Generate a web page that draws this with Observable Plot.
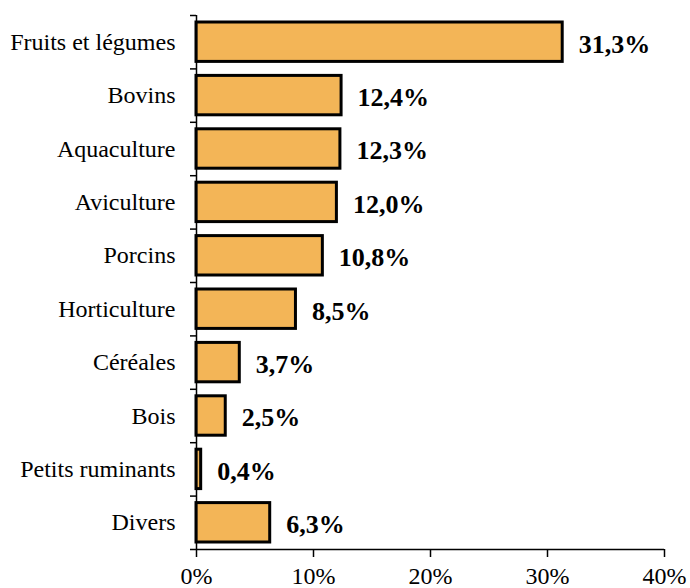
<!DOCTYPE html>
<html><head><meta charset="utf-8">
<script src="https://cdn.jsdelivr.net/npm/d3@7"></script>
<script src="https://cdn.jsdelivr.net/npm/@observablehq/plot@0.6"></script>
<style>body{margin:0;background:#fff}</style>
</head><body><div id="chart"></div>
<script>
const categories = ["Fruits et légumes","Bovins","Aquaculture","Aviculture","Porcins","Horticulture","Céréales","Bois","Petits ruminants","Divers"];
const values = [31.3, 12.4, 12.3, 12.0, 10.8, 8.5, 3.7, 2.5, 0.4, 6.3];
const xTicks = [0, 10, 20, 30, 40];

const data = categories.map((c, i) => ({cat: c, value: values[i], idx: i}));
const fmt = v => v.toFixed(1).replace(".", ",") + "%";

const chart = Plot.plot({
  width: 690, height: 588,
  marginLeft: 196, marginRight: 26, marginTop: 15, marginBottom: 39,
  style: {fontFamily: "'Liberation Serif', 'Times New Roman', serif", color: "#000", background: "#fff"},
  x: {domain: [0, 40]},
  y: {domain: [0, categories.length], reverse: true},
  marks: [
    Plot.rectX(data, {x1: 0, x2: "value", y1: "idx", y2: d => d.idx + 1, insetTop: 7, insetBottom: 7,
      fill: "#F3B557", stroke: "#000", strokeWidth: 3}),
    Plot.text(data, {x: "value", y: d => d.idx + 0.5, text: d => fmt(d.value), textAnchor: "start",
      dx: 16, dy: 2, fontSize: 26, fontWeight: "bold", fill: "#000"}),
    Plot.axisY(d3.range(categories.length + 1), {tickSize: 6, tickFormat: () => "", label: null, strokeWidth: 1.5}),
    Plot.axisY(d3.range(categories.length).map(i => i + 0.5), {tickSize: 0, tickPadding: 21,
      tickFormat: d => categories[Math.floor(d)], fontSize: 24, label: null}),
    Plot.axisX(xTicks, {tickSize: 8, tickPadding: 9, tickFormat: d => d + "%", fontSize: 24, label: null, strokeWidth: 1.5}),
    Plot.ruleX([0], {strokeWidth: 1.5}),
    Plot.ruleY([categories.length], {strokeWidth: 1.5})
  ]
});
document.getElementById("chart").appendChild(chart);
</script>
</body></html>
